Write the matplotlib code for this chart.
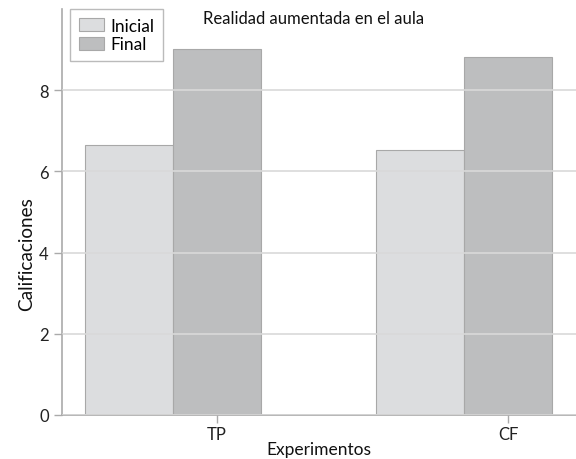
import matplotlib
matplotlib.use("Agg")
import matplotlib.pyplot as plt
import numpy as np

categories = ["TP", "CF"]
series_names = ["Inicial", "Final"]
inicial = [6.66, 6.53]
final = [9.02, 8.81]
yticks = [0, 2, 4, 6, 8]

plt.rcParams['font.family'] = ['Lato', 'DejaVu Sans']

fig = plt.figure(figsize=(5.76, 4.6), dpi=100)
ax = fig.add_axes([62/576, 44/460, 1 - 62/576, (416-10)/460])

x = np.arange(len(categories))
w = 88/291
ax.bar(x - w, inicial, width=w, align='center', color='#dcdddf', edgecolor='#a8a8a8', linewidth=0.8, label=series_names[0], zorder=1)
ax.bar(x, final, width=w, align='center', color='#bdbebf', edgecolor='#a8a8a8', linewidth=0.8, label=series_names[1], zorder=1)

ax.set_xlim((62-217)/291, (576-217)/291)
ax.set_ylim(0, 10)
ax.set_yticks(yticks)
ax.set_xticks(x)
ax.set_xticklabels(categories)
ax.yaxis.grid(True, color='#d9d9d9', linewidth=1.2, zorder=3)
ax.set_axisbelow(False)

for s in ['top', 'right']:
    ax.spines[s].set_visible(False)
for s in ['left', 'bottom']:
    ax.spines[s].set_color('#aaaaaa')
    ax.spines[s].set_linewidth(1.2)
ax.tick_params(axis='both', colors='#aaaaaa', labelcolor='#222222', labelsize=12, length=6, width=1)
ax.tick_params(axis='x', pad=2)

ax.set_xlabel("Experimentos", fontsize=12.5, labelpad=-1, color='#111111')
ax.set_ylabel("Calificaciones", fontsize=13.7, color='#111111')
ax.yaxis.set_label_coords(-0.052, 0.40)
ax.text((313.5-62)/514, 0.997, "Realidad aumentada en el aula", transform=ax.transAxes, ha='center', va='top', fontsize=12, color='#111111')

leg = ax.legend(loc='upper left', bbox_to_anchor=(8/514, 1.0), fontsize=12.5, frameon=True, fancybox=False,
                edgecolor='#aaaaaa', handlelength=1.45, handleheight=0.75, borderpad=0.5, labelspacing=0.15,
                handletextpad=0.4, borderaxespad=0.0)
leg.get_frame().set_linewidth(1.0)

fig.savefig("out.png", dpi=100)
